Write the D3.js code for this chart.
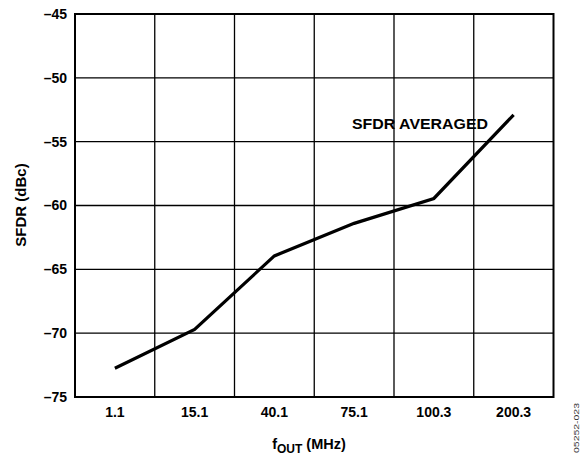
<!DOCTYPE html>
<html>
<head>
<meta charset="utf-8">
<script src="https://cdn.jsdelivr.net/npm/d3@7"></script>
<style>
  body { margin: 0; background: #fff; }
  text { font-family: "Liberation Sans", Arial, sans-serif; }
</style>
</head>
<body>
<script>
// chart values
const frequencies = ['1.1', '15.1', '40.1', '75.1', '100.3', '200.3'];
const sfdrAveraged = [-72.75, -69.7, -63.95, -61.4, -59.45, -52.9];
const yTicks = [-75, -70, -65, -60, -55, -50, -45];

let width = 586,
  height = 455;

let svg = d3.select('body').append('svg')
  .attr('width', width)
  .attr('height', height);

// plot frame
let plotLeft = 75, plotRight = 553.5, plotTop = 14, plotBottom = 397;

let x = d3.scaleBand()
  .domain(frequencies)
  .range([plotLeft, plotRight])
  .padding(0);

let y = d3.scaleLinear()
  .domain([-75, -45])
  .range([plotBottom, plotTop]);

// vertical grid at band boundaries
svg.append('g')
  .selectAll('line')
  .data(frequencies.slice(1))
  .enter()
  .append('line')
  .attr('x1', d => x(d))
  .attr('x2', d => x(d))
  .attr('y1', plotTop)
  .attr('y2', plotBottom)
  .style('stroke', '#000')
  .style('stroke-width', 1.3);

// horizontal grid
svg.append('g')
  .selectAll('line')
  .data(yTicks.slice(1, -1))
  .enter()
  .append('line')
  .attr('x1', plotLeft)
  .attr('x2', plotRight)
  .attr('y1', d => y(d))
  .attr('y2', d => y(d))
  .style('stroke', '#000')
  .style('stroke-width', 1.3);

// frame
svg.append('rect')
  .attr('x', plotLeft)
  .attr('y', plotTop)
  .attr('width', plotRight - plotLeft)
  .attr('height', plotBottom - plotTop)
  .style('fill', 'none')
  .style('stroke', '#000')
  .style('stroke-width', 2);

// y axis labels
let yAxis = d3.axisLeft(y)
  .tickValues(yTicks)
  .tickSize(0)
  .tickPadding(8)
  .tickFormat(d => String(d).replace('-', '\u2013'));

svg.append('g')
  .attr('transform', 'translate(' + plotLeft + ',0)')
  .call(yAxis)
  .call(g => g.select('.domain').remove())
  .selectAll('text')
  .style('font-size', '14px')
  .style('font-weight', 'bold')
  .style('font-family', '"Liberation Sans", Arial, sans-serif')
  .attr('fill', '#000');

// x axis labels
let xAxis = d3.axisBottom(x)
  .tickSize(0)
  .tickPadding(10);

svg.append('g')
  .attr('transform', 'translate(0,' + plotBottom + ')')
  .call(xAxis)
  .call(g => g.select('.domain').remove())
  .selectAll('text')
  .style('font-size', '14px')
  .style('font-weight', 'bold')
  .style('font-family', '"Liberation Sans", Arial, sans-serif')
  .attr('fill', '#000');

// data line
let line = d3.line()
  .x((d, i) => x(frequencies[i]) + x.bandwidth() / 2)
  .y(d => y(d));

svg.append('path')
  .datum(sfdrAveraged)
  .attr('d', line)
  .style('fill', 'none')
  .style('stroke', '#000')
  .style('stroke-width', 3.2)
  .style('stroke-linejoin', 'miter');

// series annotation
svg.append('text')
  .attr('x', 352)
  .attr('y', 129)
  .attr('textLength', 136)
  .attr('lengthAdjust', 'spacingAndGlyphs')
  .style('font-size', '15px')
  .style('font-weight', 'bold')
  .text('SFDR AVERAGED');

// y title
svg.append('text')
  .attr('transform', 'translate(25.5,205) rotate(-90)')
  .attr('text-anchor', 'middle')
  .style('font-size', '15px')
  .style('font-weight', 'bold')
  .text('SFDR (dBc)');

// x title with subscript
let xt = svg.append('text')
  .attr('x', 309)
  .attr('y', 449)
  .attr('text-anchor', 'middle')
  .style('font-size', '14.5px')
  .style('font-weight', 'bold');
xt.append('tspan').text('f');
xt.append('tspan').attr('dy', 3.5).style('font-size', '12px').text('OUT');
xt.append('tspan').attr('dy', -3.5).text(' (MHz)');

// figure id
svg.append('text')
  .attr('transform', 'translate(579,403) rotate(-90)')
  .attr('text-anchor', 'end')
  .attr('textLength', 50)
  .attr('lengthAdjust', 'spacingAndGlyphs')
  .style('font-size', '8px')
  .style('fill', '#333')
  .text('05252-023');
</script>
</body>
</html>
